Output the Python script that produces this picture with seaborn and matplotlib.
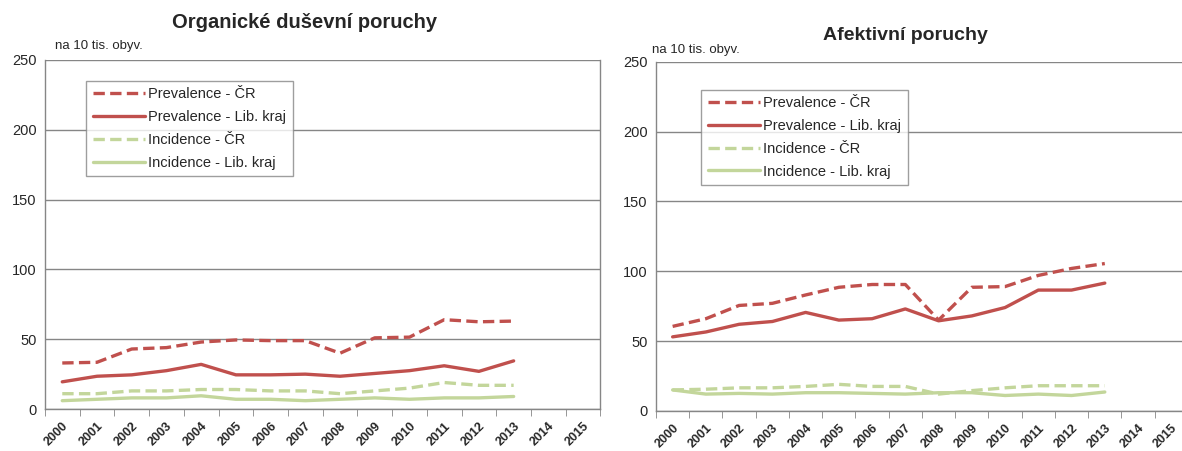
import numpy as np
import pandas as pd
import matplotlib
matplotlib.use("Agg")
import matplotlib.pyplot as plt
import seaborn as sns

# ---------- data (na 10 tis. obyv.) ----------
years = list(range(2000, 2014))
axis_years = [str(y) for y in range(2000, 2016)]

org_prev_cr = [33, 33.5, 43, 44, 48, 49.5, 49, 49, 40, 51, 51.5, 64, 62.5, 63]
org_prev_lib = [19.5, 23.5, 24.5, 27.5, 32, 24.5, 24.5, 25, 23.5, 25.5, 27.5, 31, 27, 34.5]
org_inc_cr = [11, 11, 13, 13, 14, 14, 13, 13, 11, 13, 15, 19, 17, 17]
org_inc_lib = [6, 7, 8, 8, 9.5, 7, 7, 6, 7, 8, 7, 8, 8, 9]

af_prev_cr = [60.5, 66, 75.5, 77, 83, 88.5, 90.5, 90.5, 65, 88.5, 89, 97, 102, 105.5]
af_prev_lib = [53, 56.5, 62, 64, 70.5, 65, 66, 73, 64.5, 68, 74, 86.5, 86.5, 91.5]
af_inc_cr = [15, 15.5, 16.5, 16.5, 17.5, 19, 17.5, 17.5, 12, 14.5, 16.5, 18, 18, 18]
af_inc_lib = [15, 12, 12.5, 12, 13, 13, 12.5, 12, 13, 13, 11, 12, 11, 13.5]

labels = ["Prevalence - ČR", "Prevalence - Lib. kraj", "Incidence - ČR", "Incidence - Lib. kraj"]
RED = "#C0504D"
GREEN = "#C3D69B"
colors = [RED, RED, GREEN, GREEN]
dashed = [True, False, True, False]

sns.set_style("white")
plt.rcParams["font.family"] = ["Liberation Sans", "DejaVu Sans"]

fig = plt.figure(figsize=(11.82, 4.51), dpi=100)
ax1 = fig.add_axes([0.038, 0.093, 0.470, 0.774])
ax2 = fig.add_axes([0.555, 0.089, 0.450, 0.774])


def draw(ax, series, title, title_pos, title_size, legend_box, unit_pos):
    x = np.arange(len(years))
    for vals, lab, col, d in zip(series, labels, colors, dashed):
        df = pd.DataFrame({"x": x, "y": vals})
        sns.lineplot(data=df, x="x", y="y", ax=ax, color=col, linewidth=2.4,
                     linestyle=(0, (3.4, 1.6)) if d else "-", label=lab)
    ax.set_xlim(-0.5, len(axis_years) - 0.5)
    ax.set_ylim(0, 250)
    ax.set_yticks(range(0, 251, 50))
    ax.yaxis.grid(True, color="#868686", linewidth=1)
    ax.set_axisbelow(True)
    ax.set_xticks(range(len(axis_years)))
    ax.set_xticklabels(axis_years, rotation=45, ha="right", rotation_mode="anchor",
                       fontsize=9, fontweight="bold")
    ax.set_xticks(np.arange(-0.5, len(axis_years), 1), minor=True)
    ax.tick_params(axis="x", which="major", length=0, pad=8)
    ax.tick_params(axis="x", which="minor", length=5, color="#868686", direction="out", bottom=True)
    ax.tick_params(axis="y", labelsize=10.5, length=0, pad=6)
    ax.set_xlabel("")
    ax.set_ylabel("")
    for s in ["left", "bottom", "right"]:
        ax.spines[s].set_color("#868686")
        ax.spines[s].set_linewidth(1)
    ax.spines["top"].set_visible(False)
    leg = ax.legend(loc="upper left", bbox_to_anchor=legend_box, fontsize=10.5,
                    frameon=True, fancybox=False, handlelength=3.6, handletextpad=0.2,
                    labelspacing=0.6, borderpad=0.45, borderaxespad=0)
    leg.get_frame().set_edgecolor("#868686")
    leg.get_frame().set_linewidth(1)
    ax.text(*unit_pos, "na 10 tis. obyv.", transform=ax.transAxes, fontsize=9.5, ha="left", va="center")
    fig.text(*title_pos, title, fontsize=title_size, fontweight="bold", ha="center", va="center")


draw(ax1, [org_prev_cr, org_prev_lib, org_inc_cr, org_inc_lib],
     "Organické duševní poruchy", (0.258, 0.951), 14.5, (0.074, 0.94), (0.018, 1.04))
draw(ax2, [af_prev_cr, af_prev_lib, af_inc_cr, af_inc_lib],
     "Afektivní poruchy", (0.766, 0.922), 14, (0.085, 0.92), (-0.008, 1.034))

plt.savefig("out.png", dpi=100)
plt.close()
